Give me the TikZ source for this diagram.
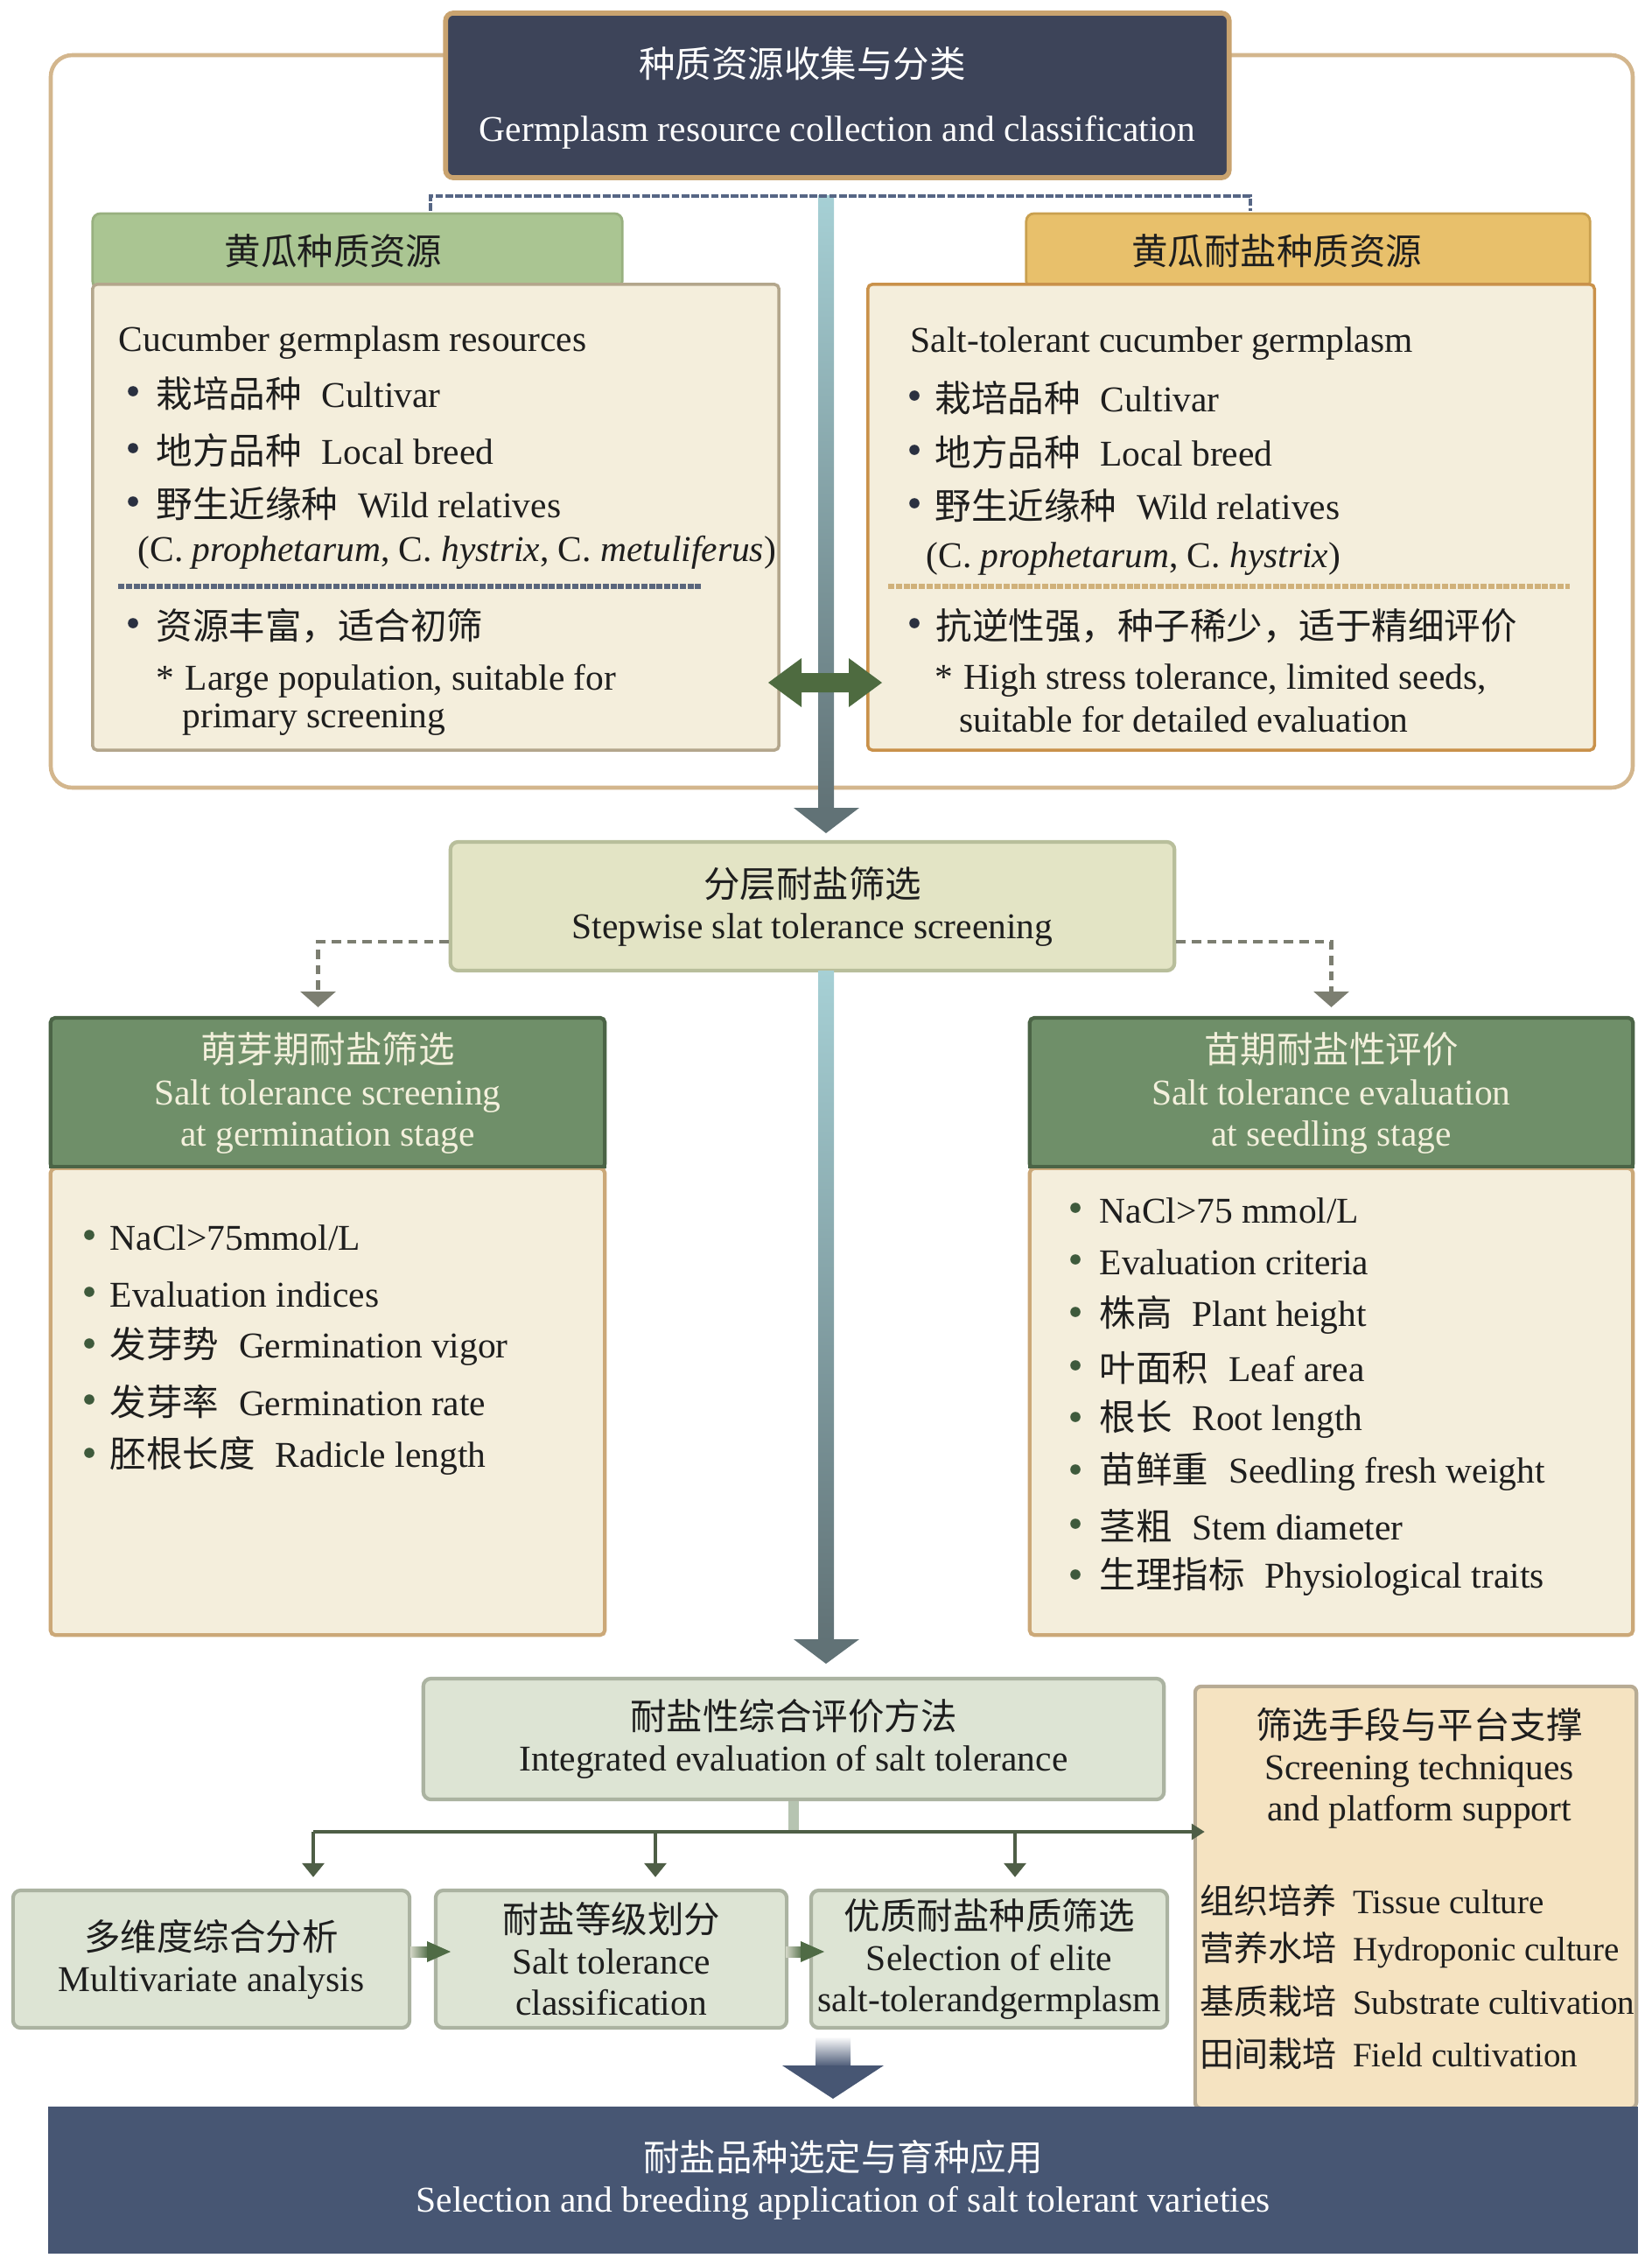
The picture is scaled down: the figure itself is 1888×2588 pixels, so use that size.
\documentclass[tikz,border=0pt]{standalone}
\usepackage{fontspec}
\setmainfont{Liberation Serif}
\newfontfamily\cjk{Noto Sans CJK SC}
\usetikzlibrary{arrows.meta,calc}
\newcommand{\zh}[1]{{\cjk #1}}
\definecolor{ink}{HTML}{1E1E1E}
\definecolor{navy}{HTML}{3D4459}
\definecolor{tanb}{HTML}{C9A36F}
\definecolor{framec}{HTML}{D3B68D}
\definecolor{brkc}{HTML}{566685}
\definecolor{teal1}{HTML}{A6D0D5}
\definecolor{barb}{HTML}{617276}
\definecolor{hgreen}{HTML}{AAC592}
\definecolor{hgreenb}{HTML}{98B07F}
\definecolor{horange}{HTML}{E8C06B}
\definecolor{horangeb}{HTML}{C9A04F}
\definecolor{cream}{HTML}{F4EEDC}
\definecolor{creambL}{HTML}{B3A68C}
\definecolor{creambR}{HTML}{C9914A}
\definecolor{sepL}{HTML}{5A667C}
\definecolor{sepR}{HTML}{D0B17A}
\definecolor{darrow}{HTML}{4E6B40}
\definecolor{stepf}{HTML}{E3E4C5}
\definecolor{stepb}{HTML}{B8BE9B}
\definecolor{dashc}{HTML}{7C7E71}
\definecolor{mgreen}{HTML}{6F8F69}
\definecolor{mgreenb}{HTML}{4B6446}
\definecolor{lighttxt}{HTML}{F3F0DC}
\definecolor{creamb2}{HTML}{CBA878}
\definecolor{sage}{HTML}{DDE4D4}
\definecolor{sageb}{HTML}{ABB3A1}
\definecolor{stemc}{HTML}{B6C4B1}
\definecolor{lineg}{HTML}{4E5E46}
\definecolor{wheat}{HTML}{F5E3C1}
\definecolor{wheatb}{HTML}{B7AB94}
\definecolor{navy2}{HTML}{475673}
\definecolor{bulletc}{HTML}{2A3040}
\definecolor{bulletg}{HTML}{3E5A3C}
\definecolor{sarr}{HTML}{4F6B45}
\definecolor{sarrl}{HTML}{D3D6C6}
\begin{document}
\begin{tikzpicture}[x=0.01cm,y=-0.01cm,
  every node/.style={font=\fontsize{11.8}{13.4}\selectfont, text=ink},
  box/.style={draw, rounded corners=2.5pt, inner sep=0pt, align=center},
  txt/.style={anchor=west, inner sep=0pt},
  ctxt/.style={inner sep=0pt, align=center},
  small/.style={font=\fontsize{11.1}{13}\selectfont},
  brk/.style={draw=brkc, line width=1.3pt, dash pattern=on 2.5pt off 0.7pt},
  dashconn/.style={draw=dashc, line width=1.2pt, dash pattern=on 3pt off 2pt,
     -{Triangle[width=0.4cm,length=0.18cm]}, shorten >=0.1cm},
  darr/.style={draw=lineg, line width=1pt, -{Triangle[width=0.25cm,length=0.16cm]}},
]
\useasboundingbox (0,0) rectangle (1888,2588);

% outer frame
\draw[draw=framec, line width=1.3pt, rounded corners=7pt] (58,63) rectangle (1866,900);

% top box
\node[box, draw=tanb, line width=1.6pt, fill=navy, minimum width=8.95cm, minimum height=1.88cm] (top) at (957,109) {};
\node[ctxt, text=white] (topzh) at (917,73) {\zh{种质资源收集与分类}};
\node[ctxt, text=white] (topen) at (957,151) {Germplasm resource collection and classification};

% central bar (upper)
\shade[top color=teal1, bottom color=barb] (935,224) rectangle (953,925);
\fill[barb] (907,923) -- (982,923) -- (944,952) -- cycle;

% headers
\node[box, draw=hgreenb, fill=hgreen, line width=0.8pt, minimum width=6.05cm, minimum height=0.86cm] (hdrL) at (408.5,287) {};
\node[box, draw=horangeb, fill=horange, line width=0.8pt, minimum width=6.44cm, minimum height=0.86cm] (hdrR) at (1495,287) {};
\node[ctxt] (hdrLt) at (381,287) {\zh{黄瓜种质资源}};
\node[ctxt] (hdrRt) at (1459,287) {\zh{黄瓜耐盐种质资源}};

% bracket
\coordinate (bkL) at (492,241);
\coordinate (bkR) at (1429,241);
\draw[brk] (bkL) -- ++(0,-17) -| (bkR);

% body boxes (top)
\node[box, rounded corners=1.5pt, draw=creambL, fill=cream, line width=1pt, minimum width=7.84cm, minimum height=5.32cm] (bodyL) at (498,591) {};
\node[box, rounded corners=1.5pt, draw=creambR, fill=cream, line width=1pt, minimum width=8.30cm, minimum height=5.32cm] (bodyR) at (1407,591) {};

% left body text
\node[txt] (lA) at (135,392) {Cucumber germplasm resources};
\node[txt] (lB) at (178,450) {\zh{栽培品种}\hspace{0.55em}Cultivar};
\node[txt] (lC) at (178,515) {\zh{地方品种}\hspace{0.55em}Local breed};
\node[txt] (lD) at (178,576) {\zh{野生近缘种}\hspace{0.55em}Wild relatives};
\node[txt] (lE) at (157,631) {(C. \textit{prophetarum}, C. \textit{hystrix}, C. \textit{metuliferus})};
\node[txt] (lF) at (178,715) {\zh{资源丰富，适合初筛}};
\node[txt] (lG) at (178,778) {*\hspace{0.3em}Large population, suitable for};
\node[txt] (lH) at (208,822) {primary screening};
\draw[sepL, line width=1.6pt, dash pattern=on 2pt off 0.5pt] (135,670) -- (802,670);
\foreach \y in {450,515,576,715} \fill[bulletc] (152,\y-3) circle[radius=0.058cm];

% right body text
\node[txt] (rA) at (1040,393) {Salt-tolerant cucumber germplasm};
\node[txt] (rB) at (1068,455) {\zh{栽培品种}\hspace{0.55em}Cultivar};
\node[txt] (rC) at (1068,517) {\zh{地方品种}\hspace{0.55em}Local breed};
\node[txt] (rD) at (1068,578) {\zh{野生近缘种}\hspace{0.55em}Wild relatives};
\node[txt] (rE) at (1058,639) {(C. \textit{prophetarum}, C. \textit{hystrix})};
\node[txt] (rF) at (1069,715) {\zh{抗逆性强，种子稀少，适于精细评价}};
\node[txt] (rG) at (1068,778) {*\hspace{0.3em}High stress tolerance, limited seeds,};
\node[txt] (rH) at (1096,822) {suitable for detailed evaluation};
\draw[sepR, line width=1.6pt, dash pattern=on 2pt off 0.5pt] (1015,670) -- (1794,670);
\foreach \y in {455,517,578,715} \fill[bulletc] (1045,\y-3) circle[radius=0.058cm];

% double arrow
\fill[darrow] (878,780) -- (916,752) -- (916,769) -- (970,769) -- (970,752) -- (1008,780)
  -- (970,808) -- (970,791) -- (916,791) -- (916,808) -- cycle;

% stepwise box
\node[box, draw=stepb, fill=stepf, line width=1.2pt, minimum width=8.27cm, minimum height=1.47cm] (step) at (928.5,1035.5)
  {\zh{分层耐盐筛选}\\Stepwise slat tolerance screening};

% central bar (lower)
\shade[top color=teal1, bottom color=barb] (935,1109) rectangle (953,1875);
\fill[barb] (907,1873) -- (982,1873) -- (944,1901) -- cycle;

% green headers
\node[box, rounded corners=1.5pt, draw=mgreenb, fill=mgreen, line width=1.2pt, minimum width=6.33cm, minimum height=1.72cm, text=lighttxt] (gL) at (374.5,1249)
  {\zh{萌芽期耐盐筛选}\\Salt tolerance screening\\at germination stage};
\node[box, rounded corners=1.5pt, draw=mgreenb, fill=mgreen, line width=1.2pt, minimum width=6.89cm, minimum height=1.72cm, text=lighttxt] (gR) at (1521.5,1249)
  {\zh{苗期耐盐性评价}\\Salt tolerance evaluation\\at seedling stage};

% dashed connectors
\draw[dashconn] ([yshift=-0.405cm]step.west) -| ([xshift=-0.11cm]gL.north);
\draw[dashconn] ([yshift=-0.405cm]step.east) -| (gR.north);

% lower body boxes
\node[box, rounded corners=1.5pt, draw=creamb2, fill=cream, line width=1.2pt, minimum width=6.33cm, minimum height=5.33cm] (cL) at (374.5,1601.5) {};
\node[box, rounded corners=1.5pt, draw=creamb2, fill=cream, line width=1.2pt, minimum width=6.89cm, minimum height=5.33cm] (cR) at (1521.5,1601.5) {};
\draw[mgreenb, line width=1.2pt] (cL.north west) -- (cL.north east);
\draw[mgreenb, line width=1.2pt] (cR.north west) -- (cR.north east);

\node[txt] (g1) at (125,1414) {NaCl>75mmol/L};
\node[txt] (g2) at (125,1479) {Evaluation indices};
\node[txt] (g3) at (125,1538) {\zh{发芽势}\hspace{0.55em}Germination vigor};
\node[txt] (g4) at (125,1602) {\zh{发芽率}\hspace{0.55em}Germination rate};
\node[txt] (g5) at (125,1663) {\zh{胚根长度}\hspace{0.55em}Radicle length};
\foreach \y in {1414,1479,1538,1602,1663} \fill[bulletg] (102,\y-3) circle[radius=0.058cm];

\node[txt] (s1) at (1256,1383) {NaCl>75 mmol/L};
\node[txt] (s2) at (1256,1442) {Evaluation criteria};
\node[txt] (s3) at (1256,1502) {\zh{株高}\hspace{0.55em}Plant height};
\node[txt] (s4) at (1256,1563) {\zh{叶面积}\hspace{0.55em}Leaf area};
\node[txt] (s5) at (1256,1622) {\zh{根长}\hspace{0.55em}Root length};
\node[txt] (s6) at (1256,1682) {\zh{苗鲜重}\hspace{0.55em}Seedling fresh weight};
\node[txt] (s7) at (1256,1744) {\zh{茎粗}\hspace{0.55em}Stem diameter};
\node[txt] (s8) at (1256,1802) {\zh{生理指标}\hspace{0.55em}Physiological traits};
\foreach \y in {1383,1442,1502,1563,1622,1682,1744,1802} \fill[bulletg] (1229,\y-3) circle[radius=0.058cm];

% integrated box
\node[box, draw=sageb, fill=sage, line width=1.2pt, minimum width=8.46cm, minimum height=1.38cm] (integ) at (907,1987)
  {\zh{耐盐性综合评价方法}\\Integrated evaluation of salt tolerance};

% platform box
\node[box, rounded corners=2pt, draw=wheatb, fill=wheat, line width=1.2pt, minimum width=5.04cm, minimum height=4.82cm] (plat) at (1618,2168) {};
\node[ctxt] (pt) at (1622,2020) {\zh{筛选手段与平台支撑}\\Screening techniques\\and platform support};
\node[txt, small] (p1) at (1371,2172) {\makebox[49.6pt][l]{\zh{组织培养}}Tissue culture};
\node[txt, small] (p2) at (1371,2228) {\makebox[49.6pt][l]{\zh{营养水培}}Hydroponic culture};
\node[txt, small] (p3) at (1371,2287) {\makebox[49.6pt][l]{\zh{基质栽培}}Substrate cultivation};
\node[txt, small] (p4) at (1371,2347) {\makebox[49.6pt][l]{\zh{田间栽培}}Field cultivation};

% bottom row boxes
\node[box, draw=sageb, fill=sage, line width=1.2pt, minimum width=4.53cm, minimum height=1.57cm] (b1) at (241.5,2238.5)
  {\zh{多维度综合分析}\\Multivariate analysis};
\node[box, draw=sageb, fill=sage, line width=1.2pt, minimum width=4.01cm, minimum height=1.57cm] (b2) at (698.5,2238.5)
  {\zh{耐盐等级划分}\\Salt tolerance\\classification};
\node[box, draw=sageb, fill=sage, line width=1.2pt, minimum width=4.07cm, minimum height=1.57cm] (b3) at (1130.5,2238.5)
  {\zh{优质耐盐种质筛选}\\Selection of elite\\salt-tolerandgermplasm};

% stem and distribution line
\coordinate (hL) at (358,2093);
\coordinate (hR) at ($(plat.west |- hL)+(13,0)$);
\draw[stemc, line width=3.4pt] (integ.south) -- (integ.south |- hL);
\draw[darr, -{Triangle[width=0.18cm,length=0.15cm]}] (hL) -- (hR);
\coordinate (d1) at (358,2093);
\coordinate (d2) at (749,2093);
\coordinate (d3) at (1160,2093);
\draw[darr, shorten >=0.13cm] (d1) -- (d1 |- b1.north);
\draw[darr, shorten >=0.13cm] (d2) -- (d2 |- b2.north);
\draw[darr, shorten >=0.13cm] (d3) -- (d3 |- b3.north);

% small arrows between boxes
\shade[left color=sarrl, right color=sarr] (469,2224) rectangle (490,2236);
\fill[sarr] (488,2218) -- (515,2230) -- (488,2242) -- cycle;
\shade[left color=sarrl, right color=sarr] (898,2224) rectangle (918,2236);
\fill[sarr] (915,2218) -- (942,2230) -- (915,2242) -- cycle;

% final arrow
\shade[top color=white, bottom color=navy2] (932,2327) rectangle (972,2362);
\fill[navy2] (894,2360) -- (1010,2360) -- (952,2398) -- cycle;

% final box
\node[box, rounded corners=0pt, draw=navy2, fill=navy2, minimum width=18.15cm, minimum height=1.66cm, text=white] (final) at (963.5,2491)
  {\zh{耐盐品种选定与育种应用}\\Selection and breeding application of salt tolerant varieties};
\end{tikzpicture}
\end{document}
